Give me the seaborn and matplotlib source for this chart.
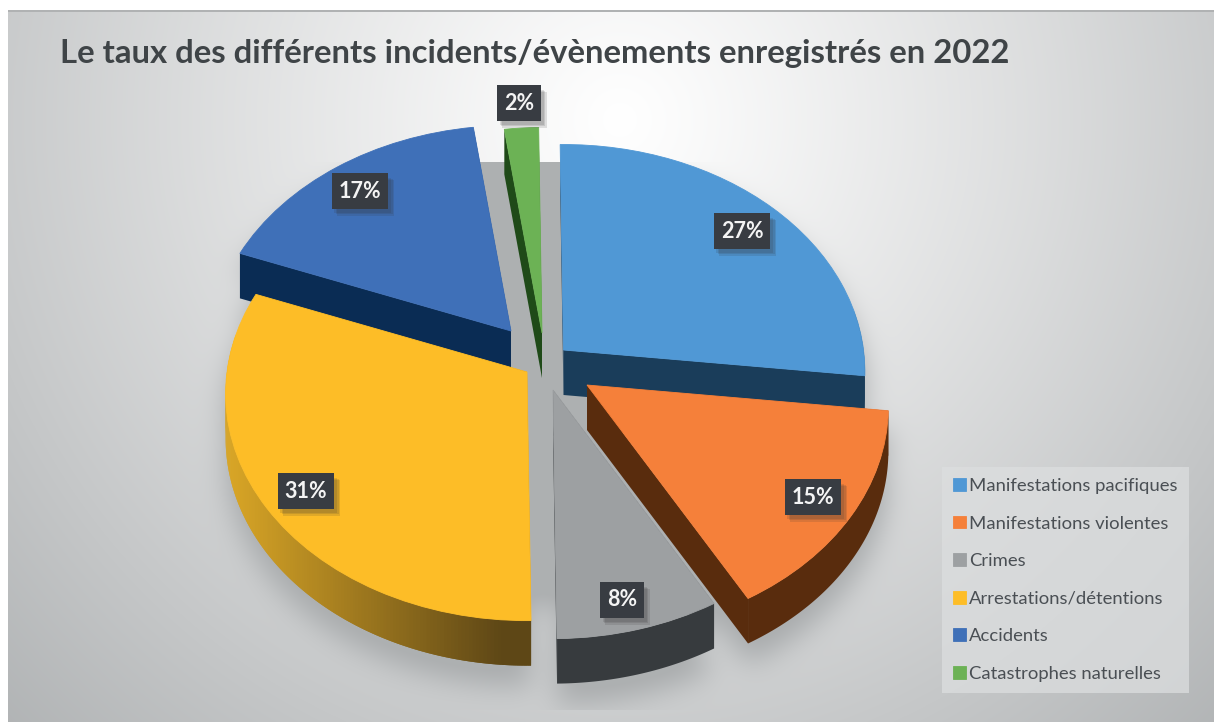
import numpy as np
import matplotlib
matplotlib.use("Agg")
import matplotlib.pyplot as plt
import matplotlib.transforms as mtransforms
import matplotlib.patheffects as pe
from matplotlib.colors import to_rgb
from matplotlib.path import Path
import seaborn as sns

# ---- data
categories = ["Manifestations pacifiques", "Manifestations violentes", "Crimes",
              "Arrestations/détentions", "Accidents", "Catastrophes naturelles"]
values = [27, 15, 8, 31, 17, 2]
value_labels = ["27%", "15%", "8%", "31%", "17%", "2%"]
title = "Le taux des différents incidents/évènements enregistrés en 2022"

# ---- style
top_colors = ["#5098d5", "#f5803a", "#9da0a2", "#fdbd27", "#3f70b8", "#6cb255"]
side_colors = ["#1a3d5a", "#592c0d", "#373b3e", "#5e4716", "#0a2c54", "#1f4a18"]
yellow_side_left = "#d8a526"
apex = [(563.5, 350), (587, 385), (553, 390), (527, 372), (511, 331), (542, 333)]
draw_order = [5, 4, 0, 2, 1, 3]
label_pos = [(742, 231), (813, 497), (622, 600), (306, 491), (360, 191), (519, 103)]

W, H = 1214, 722
RX, RY, K, DEPTH = 300, 225, 0.095, 45
ROT_DEG = 0.7

sns.set_theme(style="white")
plt.rcParams["font.family"] = ["Lato", "DejaVu Sans"]
fig = plt.figure(figsize=(W / 100, H / 100), dpi=100, facecolor="white")
ax = fig.add_axes([0, 0, 1, 1])


def project(x, y):
    x, y = np.asarray(x, float), np.asarray(y, float)
    s = 1 / (1 + K * y)
    return RX * x * s, -RY * y * s


class Perspective(mtransforms.Transform):
    input_dims = output_dims = 2
    is_separable = False
    has_inverse = False

    def transform_non_affine(self, pts):
        pts = np.asarray(pts, float)
        return np.column_stack(project(pts[:, 0], pts[:, 1]))


angles = np.cumsum([0] + values) / sum(values) * 2 * np.pi - np.deg2rad(ROT_DEG)


def blur(a, sigma):
    fy = np.fft.fftfreq(a.shape[0])[:, None]
    fx = np.fft.rfftfreq(a.shape[1])[None, :]
    g = np.exp(-2 * (np.pi * sigma) ** 2 * (fx ** 2 + fy ** 2))
    return np.fft.irfft2(np.fft.rfft2(a) * g, s=a.shape)


# ---- background: soft radial light and the pie's cast shadow
yy, xx = np.mgrid[0:H, 0:W] + 0.5
d = np.hypot(xx - 620, yy - 120)
bg = 255 - 71 * (d / 820) ** 1.1

grid = np.column_stack([xx.ravel(), yy.ravel()])
mask = np.zeros((H, W))
for i in range(6):
    th = np.linspace(angles[i], angles[i + 1], 40)
    px, py = project(np.r_[0, np.sin(th)], np.r_[0, np.cos(th)])
    for shift in (22, 22 + DEPTH):
        poly = np.column_stack([px + apex[i][0], py + apex[i][1] + shift])
        mask[Path(poly).contains_points(grid).reshape(H, W)] = 1
mask[np.hypot((xx - 545) / 240, (yy - 395) / 210) < 1] = 1
mask[(xx > 470) & (xx < 578) & (yy > 130) & (yy < 420)] = 1
sh = np.clip(blur(mask, 14) * 1.15, 0, 1)
sh[(yy < 162) | (yy > 710)] = 0
v = bg * (1 - sh) + 176 * sh
tint = np.clip((255 - v) / 70, 0, 1) * 2.5
img = np.clip(np.dstack([v - tint, v, v + 0.5 * tint]) / 255, 0, 1)
img[(yy < 10) | (xx < 8)] = 1
img[(yy >= 10) & (yy < 12) & (xx >= 8)] = np.array([176, 178, 179]) / 255
ax.imshow(img, extent=(0, W, H, 0), aspect="auto", zorder=0, interpolation="bilinear")

# ---- top faces through the pie routine
palette = sns.color_palette(top_colors)
wedges, _ = ax.pie(values, startangle=90 + ROT_DEG, counterclock=False,
                   radius=1, center=(0, 0), colors=palette,
                   wedgeprops=dict(linewidth=0.6))
for w, (ax_i, ay_i), c in zip(wedges, apex, palette):
    w.set_edgecolor(c)
    w.set_transform(Perspective() + mtransforms.Affine2D().translate(ax_i, ay_i) + ax.transData)

# ---- side faces computed from the same values
front0, front1 = np.deg2rad(80), np.deg2rad(280)
for rank, i in enumerate(draw_order):
    a0, a1 = angles[i], angles[i + 1]
    X0, Y0 = apex[i]
    base_z = 2 + rank
    wedges[i].set_zorder(base_z + 0.5)
    col = side_colors[i]
    for a in (a0, a1):  # radial walls
        tx, ty = project([0, np.sin(a)], [0, np.cos(a)])
        tx, ty = tx + X0, ty + Y0
        ax.fill(np.r_[tx, tx[::-1]], np.r_[ty, ty[::-1] + DEPTH], color=col, lw=0, zorder=base_z)
    lo, hi = max(a0, front0), min(a1, front1)
    if lo >= hi:
        continue
    th = np.linspace(lo, hi, 160)
    tx, ty = project(np.sin(th), np.cos(th))
    tx, ty = tx + X0, ty + Y0
    if i == 3:  # gradient on the yellow rim
        c_left, c_right = np.array(to_rgb(yellow_side_left)), np.array(to_rgb(col))
        for j in range(len(th) - 1, 0, -1):
            seg = slice(max(j - 2, 0), j + 1)
            t = np.clip((tx[j] - 230) / 270, 0, 1)
            ax.fill(np.r_[tx[seg], tx[seg][::-1]], np.r_[ty[seg], ty[seg][::-1] + DEPTH],
                    color=c_left * (1 - t) + c_right * t, lw=0, zorder=base_z + 0.1)
    else:
        ax.fill(np.r_[tx, tx[::-1]], np.r_[ty, ty[::-1] + DEPTH], color=col, lw=0,
                zorder=base_z + 0.1)

# ---- labels
soft_shadow = [pe.SimplePatchShadow(offset=o, alpha=0.14, shadow_rgbFace="#333333")
               for o in ((4.0, -5.0), (3.0, -4.0), (2.0, -3.0))]
for lab, (lx, ly) in zip(value_labels, label_pos):
    t = ax.text(lx, ly, lab, color="#f4f4f4", fontsize=15.5, fontweight="bold",
                ha="center", va="center", zorder=20,
                bbox=dict(boxstyle="square,pad=0.33", fc="#383c42", ec="none"))
    t.get_bbox_patch().set_path_effects(soft_shadow + [pe.Normal()])

# ---- title and legend
ax.text(60, 54, title, fontsize=23.7, fontweight="bold", color="#3f4447",
        ha="left", va="center", zorder=20)
leg = ax.legend(wedges, categories, loc="upper left", bbox_to_anchor=(942, 467),
                bbox_transform=ax.transData, frameon=True, fancybox=False,
                fontsize=13.3, labelcolor="#4a4f54", handlelength=0.68, handleheight=0.68,
                handletextpad=0.2, labelspacing=1.165, borderaxespad=0, borderpad=0.6)
leg.set_zorder(30)
leg.get_frame().set(facecolor="#dcdedf", alpha=0.75, edgecolor="none", linewidth=0)

ax.set_aspect("auto")
ax.set_xlim(0, W)
ax.set_ylim(H, 0)
ax.axis("off")
fig.savefig("out.png", dpi=100, facecolor="white")
